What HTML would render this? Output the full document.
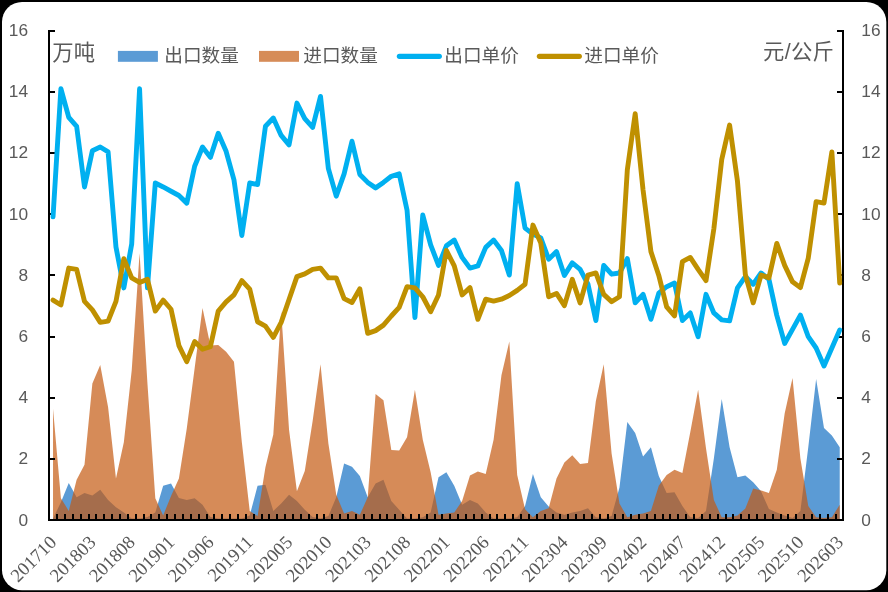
<!DOCTYPE html>
<html><head><meta charset="utf-8"><title>chart</title>
<style>html,body{margin:0;padding:0;background:#000;}body{width:888px;height:592px;overflow:hidden;font-family:"Liberation Sans",sans-serif;}svg{display:block;}</style>
</head><body>
<svg width="888" height="592" viewBox="0 0 888 592" style="will-change:transform">
<rect width="888" height="592" fill="#000"/>
<rect x="2" y="2" width="884.3" height="588.2" rx="20" ry="20" fill="#fff"/>
<polygon points="53.03,520 53.03,518.5 60.9,502.33 68.77,483.12 76.63,497.15 84.5,492.88 92.37,495.62 100.24,489.83 108.1,499.89 115.97,507.21 123.84,512.4 131.7,518.5 139.57,518.5 147.44,516.98 155.3,512.4 163.17,485.87 171.04,483.43 178.91,498.06 186.77,499.89 194.64,498.37 202.51,504.77 210.37,516.98 218.24,518.5 226.11,518.5 233.97,518.5 241.84,518.5 249.71,515.45 257.58,485.87 265.44,484.64 273.31,510.88 281.18,503.56 289.04,494.71 296.91,501.12 304.78,509.65 312.64,516.98 320.51,518.5 328.38,516.06 336.25,497.15 344.11,463.6 351.98,466.65 359.85,476.11 367.71,497.15 375.58,483.43 383.45,479.76 391.31,501.12 399.18,509.65 407.05,518.5 414.92,518.5 422.78,517.28 430.65,512.4 438.52,477.32 446.38,472.14 454.25,485.87 462.12,504.77 469.98,499.89 477.85,503.56 485.72,512.4 493.59,518.5 501.45,518.5 509.32,518.5 517.19,517.28 525.05,506 532.92,473.97 540.79,497.15 548.65,506.61 556.52,512.4 564.39,514.84 572.26,512.4 580.12,510.88 587.99,508.13 595.86,517.28 603.72,518.5 611.59,516.06 619.46,487.39 627.32,422.12 635.19,433.1 643.06,456.59 650.93,447.13 658.79,476.11 666.66,492.88 674.53,492.27 682.39,506 690.26,517.28 698.13,517.89 705.99,510.88 713.86,458.42 721.73,398.94 729.6,447.13 737.46,477.32 745.33,475.5 753.2,482.2 761.06,491.36 768.93,509.05 776.8,512.4 784.66,515.45 792.53,517.89 800.4,510.88 808.27,447.13 816.13,379.12 824,427.91 831.87,435.54 839.73,447.13 839.73,520" fill="#5b9bd5" fill-opacity="1"/>
<polygon points="53.03,520 53.03,408.7 60.9,498.37 68.77,510.88 76.63,479.76 84.5,464.82 92.37,383.38 100.24,365.08 108.1,407.18 115.97,478.55 123.84,442.25 131.7,370.58 139.57,253.15 147.44,383.38 155.3,498.37 163.17,515.45 171.04,495.93 178.91,478.55 186.77,428.52 194.64,368.13 202.51,308.05 210.37,345.56 218.24,344.95 226.11,351.67 233.97,361.73 241.84,442.25 249.71,510.88 257.58,516.06 265.44,467.26 273.31,434.62 281.18,311.1 289.04,429.75 296.91,491.36 304.78,470.92 312.64,420.9 320.51,364.17 328.38,443.47 336.25,494.71 344.11,513.62 351.98,510.88 359.85,514.84 367.71,497.15 375.58,394.06 383.45,400.16 391.31,449.88 399.18,450.49 407.05,437.37 414.92,389.79 422.78,439.81 430.65,472.14 438.52,514.84 446.38,513.62 454.25,512.4 462.12,501.12 469.98,475.5 477.85,471.53 485.72,473.97 493.59,439.81 501.45,375.15 509.32,341.6 517.19,474.88 525.05,509.35 532.92,517.28 540.79,510.88 548.65,508.13 556.52,478.55 564.39,462.38 572.26,455.37 580.12,463.9 587.99,462.99 595.86,401.07 603.72,364.17 611.59,453.53 619.46,503.56 627.32,517.28 635.19,514.84 643.06,513.62 650.93,510.88 658.79,485.87 666.66,474.88 674.53,469.7 682.39,473.06 690.26,432.19 698.13,389.79 705.99,448.35 713.86,499.89 721.73,517.28 729.6,517.28 737.46,515.45 745.33,508.44 753.2,488.61 761.06,490.44 768.93,492.88 776.8,469.7 784.66,413.58 792.53,377.89 800.4,458.42 808.27,506 816.13,517.28 824,517.89 831.87,517.28 839.73,504.77 839.73,520" fill="#c55a11" fill-opacity="0.7"/>
<g stroke="#000" stroke-width="2" fill="none">
<line x1="49.0" y1="30" x2="49.0" y2="521"/>
<line x1="843.0" y1="30" x2="843.0" y2="521"/>
<line x1="49.0" y1="520" x2="55.0" y2="520"/>
<line x1="843.0" y1="520" x2="837.0" y2="520"/>
<line x1="49.0" y1="459" x2="55.0" y2="459"/>
<line x1="843.0" y1="459" x2="837.0" y2="459"/>
<line x1="49.0" y1="398" x2="55.0" y2="398"/>
<line x1="843.0" y1="398" x2="837.0" y2="398"/>
<line x1="49.0" y1="337" x2="55.0" y2="337"/>
<line x1="843.0" y1="337" x2="837.0" y2="337"/>
<line x1="49.0" y1="275" x2="55.0" y2="275"/>
<line x1="843.0" y1="275" x2="837.0" y2="275"/>
<line x1="49.0" y1="214" x2="55.0" y2="214"/>
<line x1="843.0" y1="214" x2="837.0" y2="214"/>
<line x1="49.0" y1="153" x2="55.0" y2="153"/>
<line x1="843.0" y1="153" x2="837.0" y2="153"/>
<line x1="49.0" y1="92" x2="55.0" y2="92"/>
<line x1="843.0" y1="92" x2="837.0" y2="92"/>
<line x1="49.0" y1="31" x2="55.0" y2="31"/>
<line x1="843.0" y1="31" x2="837.0" y2="31"/>
</g>
<line x1="48.0" y1="520.0" x2="844.0" y2="520.0" stroke="#000" stroke-width="2"/>
<path d="M57 514V520M65 514V520M73 514V520M81 514V520M89 514V520M96 514V520M104 514V520M112 514V520M120 514V520M128 514V520M136 514V520M144 514V520M151 514V520M159 514V520M167 514V520M175 514V520M183 514V520M191 514V520M199 514V520M207 514V520M214 514V520M222 514V520M230 514V520M238 514V520M246 514V520M254 514V520M262 514V520M269 514V520M277 514V520M285 514V520M293 514V520M301 514V520M309 514V520M317 514V520M324 514V520M332 514V520M340 514V520M348 514V520M356 514V520M364 514V520M372 514V520M380 514V520M387 514V520M395 514V520M403 514V520M411 514V520M419 514V520M427 514V520M435 514V520M442 514V520M450 514V520M458 514V520M466 514V520M474 514V520M482 514V520M490 514V520M497 514V520M505 514V520M513 514V520M521 514V520M529 514V520M537 514V520M545 514V520M553 514V520M560 514V520M568 514V520M576 514V520M584 514V520M592 514V520M600 514V520M608 514V520M615 514V520M623 514V520M631 514V520M639 514V520M647 514V520M655 514V520M663 514V520M670 514V520M678 514V520M686 514V520M694 514V520M702 514V520M710 514V520M718 514V520M726 514V520M733 514V520M741 514V520M749 514V520M757 514V520M765 514V520M773 514V520M781 514V520M788 514V520M796 514V520M804 514V520M812 514V520M820 514V520M828 514V520M836 514V520" stroke="#000" stroke-width="2" fill="none"/>
<polyline points="53.03,216.85 60.9,88.75 68.77,117.43 76.63,126.27 84.5,186.97 92.37,150.67 100.24,147.01 108.1,151.89 115.97,247.05 123.84,287.92 131.7,244 139.57,88.75 147.44,287.92 155.3,183 163.17,186.97 171.04,191.24 178.91,195.5 186.77,203.13 194.64,166.22 202.51,147.01 210.37,157.38 218.24,133.28 226.11,151.28 233.97,179.95 241.84,235.46 249.71,183 257.58,184.53 265.44,126.27 273.31,118.03 281.18,135.42 289.04,144.88 296.91,103.09 304.78,118.65 312.64,127.49 320.51,96.38 328.38,168.66 336.25,196.12 344.11,173.85 351.98,141.22 359.85,174.46 367.71,182.39 375.58,187.88 383.45,182.39 391.31,176.29 399.18,173.85 407.05,210.15 414.92,317.5 422.78,215.03 430.65,244.91 438.52,265.35 446.38,245.83 454.25,240.03 462.12,257.42 469.98,268.09 477.85,265.96 485.72,247.35 493.59,240.03 501.45,250.41 509.32,275.11 517.19,183.61 525.05,228.14 532.92,233.94 540.79,237.9 548.65,259.25 556.52,251.62 564.39,275.42 572.26,262.91 580.12,269.31 587.99,284.26 595.86,320.56 603.72,265.35 611.59,274.19 619.46,272.97 627.32,258.64 635.19,302.87 643.06,294.33 650.93,319.33 658.79,293.11 666.66,286.7 674.53,283.04 682.39,320.56 690.26,312.93 698.13,336.72 705.99,294.33 713.86,312.93 721.73,319.94 729.6,320.86 737.46,287.92 745.33,276.63 753.2,284.26 761.06,272.97 768.93,279.38 776.8,315.37 784.66,343.43 792.53,329.4 800.4,315.06 808.27,336.72 816.13,348 824,366 831.87,348 839.73,330.01" fill="none" stroke="#00b0f0" stroke-width="4.9" stroke-linejoin="round" stroke-linecap="round"/>
<polyline points="53.03,300.12 60.9,305 68.77,268.09 76.63,269.31 84.5,301.34 92.37,309.88 100.24,322.38 108.1,321.17 115.97,301.34 123.84,258.64 131.7,277.86 139.57,282.43 147.44,279.38 155.3,311.1 163.17,300.12 171.04,309.27 178.91,345.56 186.77,361.73 194.64,341.6 202.51,349.23 210.37,346.78 218.24,311.1 226.11,301.95 233.97,294.94 241.84,280.6 249.71,289.14 257.58,321.77 265.44,326.05 273.31,337.33 281.18,322.38 289.04,299.51 296.91,276.63 304.78,273.89 312.64,269.31 320.51,268.09 328.38,277.86 336.25,277.86 344.11,298.6 351.98,302.56 359.85,288.83 367.71,333.37 375.58,330.62 383.45,325.13 391.31,315.98 399.18,307.44 407.05,286.7 414.92,287.92 422.78,296.76 430.65,311.71 438.52,294.94 446.38,250.41 454.25,265.96 462.12,294.94 469.98,287.62 477.85,319.33 485.72,299.2 493.59,301.03 501.45,299.2 509.32,295.55 517.19,290.36 525.05,284.26 532.92,225.09 540.79,243.09 548.65,296.76 556.52,293.41 564.39,305.61 572.26,279.38 580.12,302.87 587.99,275.11 595.86,272.97 603.72,294.33 611.59,301.64 619.46,296.76 627.32,169.88 635.19,113.76 643.06,190.01 650.93,251.62 658.79,275.42 666.66,306.83 674.53,315.98 682.39,261.69 690.26,257.42 698.13,269.31 705.99,280.6 713.86,228.75 721.73,159.51 729.6,125.05 737.46,181.17 745.33,274.5 753.2,302.87 761.06,275.11 768.93,277.86 776.8,243.39 784.66,265.35 792.53,281.82 800.4,287.62 808.27,258.03 816.13,201.6 824,203.13 831.87,151.89 839.73,283.04" fill="none" stroke="#bf9000" stroke-width="4.9" stroke-linejoin="round" stroke-linecap="round"/>
<g font-family="Liberation Sans, sans-serif" font-size="16.5" fill="#595959">
<text transform="translate(28.1 525.71) scale(1.05 1)" text-anchor="end">0</text>
<text transform="translate(861.3 525.71) scale(1.05 1)">0</text>
<text transform="translate(28.1 464.49) scale(1.05 1)" text-anchor="end">2</text>
<text transform="translate(861.3 464.49) scale(1.05 1)">2</text>
<text transform="translate(28.1 403.27) scale(1.05 1)" text-anchor="end">4</text>
<text transform="translate(861.3 403.27) scale(1.05 1)">4</text>
<text transform="translate(28.1 342.05) scale(1.05 1)" text-anchor="end">6</text>
<text transform="translate(861.3 342.05) scale(1.05 1)">6</text>
<text transform="translate(28.1 280.83) scale(1.05 1)" text-anchor="end">8</text>
<text transform="translate(861.3 280.83) scale(1.05 1)">8</text>
<text transform="translate(28.1 219.61) scale(1.05 1)" text-anchor="end">10</text>
<text transform="translate(861.3 219.61) scale(1.05 1)">10</text>
<text transform="translate(28.1 158.39) scale(1.05 1)" text-anchor="end">12</text>
<text transform="translate(861.3 158.39) scale(1.05 1)">12</text>
<text transform="translate(28.1 97.17) scale(1.05 1)" text-anchor="end">14</text>
<text transform="translate(861.3 97.17) scale(1.05 1)">14</text>
<text transform="translate(28.1 35.95) scale(1.05 1)" text-anchor="end">16</text>
<text transform="translate(861.3 35.95) scale(1.05 1)">16</text>
</g>
<g font-family="Liberation Serif, serif" font-size="18.67" fill="#595959" text-anchor="end">
<text transform="translate(57.53 543.5) rotate(-45)">201710</text>
<text transform="translate(96.87 543.5) rotate(-45)">201803</text>
<text transform="translate(136.2 543.5) rotate(-45)">201808</text>
<text transform="translate(175.54 543.5) rotate(-45)">201901</text>
<text transform="translate(214.87 543.5) rotate(-45)">201906</text>
<text transform="translate(254.21 543.5) rotate(-45)">201911</text>
<text transform="translate(293.54 543.5) rotate(-45)">202005</text>
<text transform="translate(332.88 543.5) rotate(-45)">202010</text>
<text transform="translate(372.21 543.5) rotate(-45)">202103</text>
<text transform="translate(411.55 543.5) rotate(-45)">202108</text>
<text transform="translate(450.88 543.5) rotate(-45)">202201</text>
<text transform="translate(490.22 543.5) rotate(-45)">202206</text>
<text transform="translate(529.55 543.5) rotate(-45)">202211</text>
<text transform="translate(568.89 543.5) rotate(-45)">202304</text>
<text transform="translate(608.22 543.5) rotate(-45)">202309</text>
<text transform="translate(647.56 543.5) rotate(-45)">202402</text>
<text transform="translate(686.89 543.5) rotate(-45)">202407</text>
<text transform="translate(726.23 543.5) rotate(-45)">202412</text>
<text transform="translate(765.56 543.5) rotate(-45)">202505</text>
<text transform="translate(804.9 543.5) rotate(-45)">202510</text>
<text transform="translate(844.23 543.5) rotate(-45)">202603</text>
</g>
<text x="52.3" y="60.3" font-family="Liberation Sans, Noto Sans CJK SC, sans-serif" font-size="21.33" fill="#595959">万吨</text>
<text x="763" y="59.2" font-family="Liberation Sans, Noto Sans CJK SC, sans-serif" font-size="21.33" fill="#595959" textLength="70.9" lengthAdjust="spacing">元/公斤</text>
<rect x="117.9" y="50.9" width="40" height="10.9" fill="#5b9bd5"/>
<rect x="259" y="50.9" width="40" height="10.9" fill="#d68c58"/>
<line x1="399.4" y1="56.3" x2="439.3" y2="56.3" stroke="#00b0f0" stroke-width="5.2" stroke-linecap="round"/>
<line x1="539.4" y1="56.3" x2="579.3" y2="56.3" stroke="#bf9000" stroke-width="5.2" stroke-linecap="round"/>
<g font-family="Liberation Sans, Noto Sans CJK SC, sans-serif" font-size="18.67" fill="#595959">
<text x="164.3" y="62">出口数量</text>
<text x="303.3" y="62">进口数量</text>
<text x="444.3" y="62">出口单价</text>
<text x="584.3" y="62">进口单价</text>
</g>
</svg>
</body></html>
